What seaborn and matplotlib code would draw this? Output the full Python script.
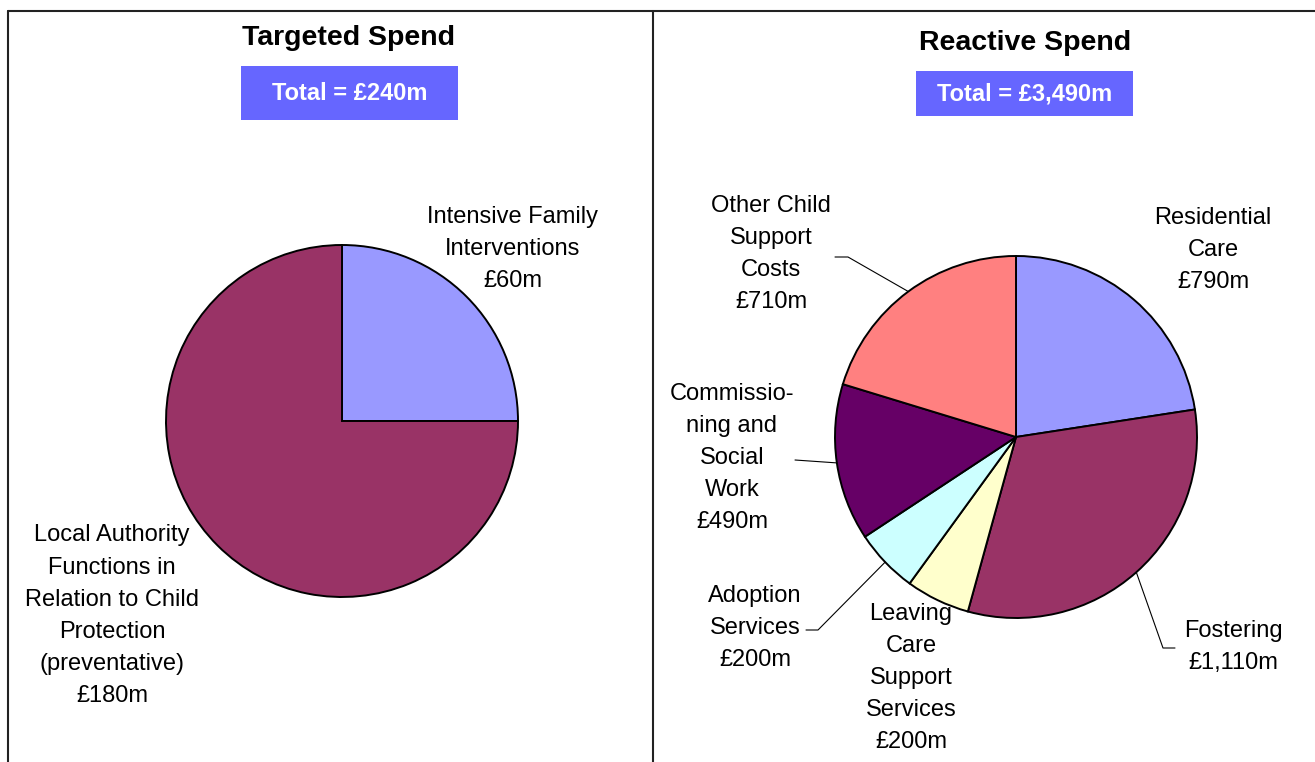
import numpy as np
import matplotlib
matplotlib.use("Agg")
import matplotlib.pyplot as plt
import seaborn as sns
from matplotlib.patches import Rectangle

# data
targeted_labels = ["Intensive Family\nInterventions",
                   "Local Authority\nFunctions in\nRelation to Child\nProtection\n(preventative)"]
targeted_values = [60, 180]
targeted_total = "£240m"

reactive_labels = ["Residential\nCare", "Fostering", "Leaving\nCare\nSupport\nServices",
                   "Adoption\nServices", "Commissio-\nning and\nSocial\nWork",
                   "Other Child\nSupport\nCosts"]
reactive_values = [790, 1110, 200, 200, 490, 710]
reactive_total = "£3,490m"

slice_colors = ["#9999FF", "#993366", "#FFFFCC", "#CCFFFF", "#660066", "#FF8080"]

sns.set_theme(style="white")
plt.rcParams['font.family'] = ['Liberation Sans', 'DejaVu Sans']
plt.rcParams['text.color'] = 'black'

W, H = 1315, 762
fig = plt.figure(figsize=(W / 100, H / 100), dpi=100)
ax = fig.add_axes([0, 0, 1, 1])


def draw_pie(values, labels, center, radius, label_pos, leaders):
    cx, cy = center[0], H - center[1]
    wedges, _ = ax.pie(values, colors=slice_colors[:len(values)], startangle=90,
                       counterclock=False, center=(cx, cy), radius=radius,
                       wedgeprops=dict(edgecolor="black", linewidth=1.4))
    for w, lab, v, pos, elbow in zip(wedges, labels, values, label_pos, leaders):
        ax.text(pos[0], H - pos[1], f"{lab}\n£{v:,}m", ha="center", va="center",
                fontsize=17, linespacing=1.6, color="black")
        if elbow:
            mid = np.deg2rad((w.theta1 + w.theta2) / 2)
            xs = [cx + radius * np.cos(mid)] + [p[0] for p in elbow]
            ys = [cy + radius * np.sin(mid)] + [H - p[1] for p in elbow]
            ax.plot(xs, ys, color="black", lw=0.8)


# left panel
draw_pie(targeted_values, targeted_labels, (342, 421), 176,
         [(513, 249), (112, 616)], [None, None])
# right panel
draw_pie(reactive_values, reactive_labels, (1016, 437), 181,
         [(1213, 250), (1233, 647), (911, 678), (755, 628), (732, 458), (771, 254)],
         [None, [(1163, 648), (1175, 648)], None, [(818, 630), (806, 630)],
          [(795, 460)], [(848, 257), (835, 257)]])

# titles and total boxes
for x, title, total, box in [(349, "Targeted Spend", targeted_total, (241, 66, 217, 54)),
                             (1025, "Reactive Spend", reactive_total, (916, 71, 217, 45))]:
    ty = 38 if x < 600 else 43
    ax.text(x, H - ty, title, fontsize=20.5, fontweight="bold", ha="center", va="center",
            color="black")
    bx, by, bw, bh = box
    ax.add_patch(Rectangle((bx, H - by - bh), bw, bh, facecolor="#6666FF", edgecolor="none"))
    ax.text(bx + bw / 2, H - by - bh / 2, "Total = " + total, color="white",
            fontsize=17, fontweight="bold", ha="center", va="center")

# panel borders
ax.plot([8, 8], [H - 11, 0], color="#222222", lw=1.5)
ax.plot([8, W], [H - 11, H - 11], color="#222222", lw=1.5)
ax.plot([653, 653], [H - 11, 0], color="#222222", lw=1.5)

ax.set_xlim(0, W)
ax.set_ylim(0, H)
ax.set_aspect("auto")
ax.set_axis_off()

fig.savefig("out.png", dpi=100)
